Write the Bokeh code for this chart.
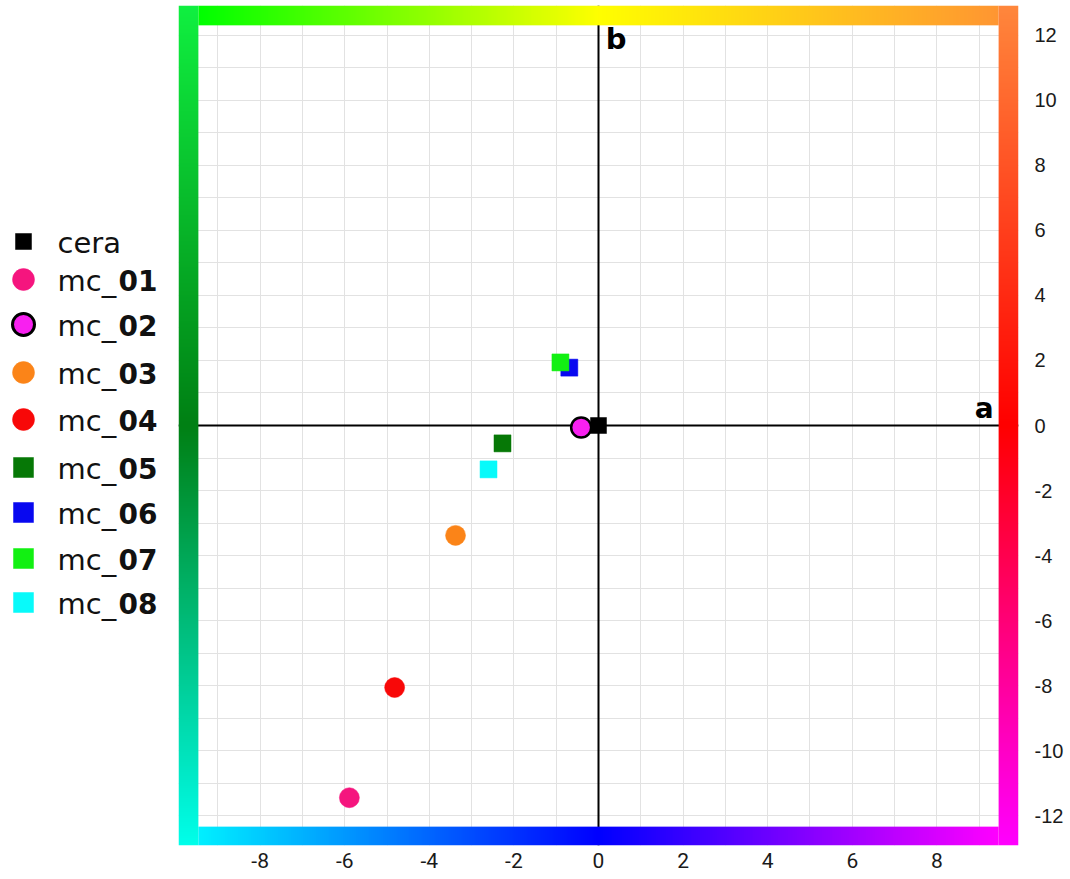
import numpy as np
from bokeh.plotting import figure
from bokeh.models import Range1d, FixedTicker, ColumnDataSource, PrintfTickFormatter
from bokeh.layouts import row
from bokeh.embed import file_html
from bokeh.resources import INLINE
from bokeh.core.properties import value

# ---------------- data ----------------
names = ["cera", "mc_01", "mc_02", "mc_03", "mc_04", "mc_05", "mc_06", "mc_07", "mc_08"]
a_vals = [0.00, -5.89, -0.41, -3.38, -4.82, -2.27, -0.69, -0.90, -2.60]
b_vals = [0.00, -11.45, -0.06, -3.38, -8.06, -0.55, 1.78, 1.94, -1.35]
markers = ["square", "circle", "circle", "circle", "circle", "square", "square", "square", "square"]
fill_colors = ["#000000", "#f5157e", "#f820f0", "#fb8418", "#f80808", "#067806", "#0808f0", "#12f012", "#08fafa"]
outline_colors = ["#000000", "#f5157e", "#000000", "#fb8418", "#f80808", "#067806", "#0808f0", "#12f012", "#08fafa"]
x_ticks = [-8, -6, -4, -2, 0, 2, 4, 6, 8]
y_ticks = [-12, -10, -8, -6, -4, -2, 0, 2, 4, 6, 8, 10, 12]

# ---------------- layout constants ----------------
LEG_W = 178
FRAME_W, FRAME_H = 840, 840
BORDER_T, BORDER_R, BORDER_B = 5, 52, 34
X_LO, X_HI = -9.93, 9.93
Y_LO, Y_HI = -12.92, 12.92
IN_X = 9.46
IN_Y_TOP, IN_Y_BOT = 12.31, -12.34

is_circle = [m == "circle" for m in markers]
plot_sizes = [20 if c else 17 for c in is_circle]
plot_sizes[0] = 16
line_widths = [2.5 if oc != fc else 0.5 for oc, fc in zip(outline_colors, fill_colors)]

src = ColumnDataSource(dict(a=a_vals, b=b_vals, marker=markers, fill=fill_colors,
                            line=outline_colors, size=plot_sizes, lw=line_widths))

p = figure(width=FRAME_W + BORDER_R, height=FRAME_H + BORDER_T + BORDER_B,
           x_range=Range1d(X_LO, X_HI), y_range=Range1d(Y_LO, Y_HI),
           output_backend="svg", toolbar_location=None,
           x_axis_location="below", y_axis_location="right",
           min_border_left=0, min_border_right=BORDER_R,
           min_border_top=BORDER_T, min_border_bottom=BORDER_B)
p.outline_line_color = None
p.background_fill_color = "white"
p.border_fill_color = "white"

p.xgrid.ticker = FixedTicker(ticks=list(range(-9, 10)))
p.ygrid.ticker = FixedTicker(ticks=list(range(-12, 13)))
p.grid.grid_line_color = "#e2e2e2"
p.grid.grid_line_width = 1

p.xaxis.ticker = FixedTicker(ticks=x_ticks)
p.yaxis.ticker = FixedTicker(ticks=y_ticks)
for ax in (p.xaxis, p.yaxis):
    ax.axis_line_color = None
    ax.major_tick_line_color = None
    ax.minor_tick_line_color = None
    ax.major_tick_out = 0
    ax.major_label_text_color = "#1a1a1a"
    ax.formatter = PrintfTickFormatter(format="%d")
p.xaxis.major_label_text_font = "Roboto"
p.xaxis.major_label_text_font_size = "21px"
p.xaxis.major_label_standoff = 7
p.yaxis.major_label_text_font = "Liberation Sans"
p.yaxis.major_label_text_font_size = "20px"
p.yaxis.major_label_standoff = 16

# axis lines through origin (drawn first, covered by frame strips)
p.segment(x0=[0, X_LO], y0=[Y_LO, 0], x1=[0, X_HI], y1=[Y_HI, 0],
          line_color="black", line_width=2)


def gradient(stops, n):
    t = np.linspace(0, 1, n)
    pos = [s[0] for s in stops]
    img = np.empty(n, dtype=np.uint32)
    view = img.view(dtype=np.uint8).reshape((n, 4))
    for k in range(3):
        view[:, k] = np.interp(t, pos, [s[1][k] for s in stops]).astype(np.uint8)
    view[:, 3] = 255
    return img


N = 420
top = gradient([(0, (0, 255, 0)), (0.5, (255, 255, 0)), (1, (255, 150, 50))], N).reshape((1, N))
bot = gradient([(0, (0, 240, 255)), (0.5, (0, 0, 255)), (1, (255, 0, 255))], N).reshape((1, N))
left = gradient([(0, (0, 255, 235)), (0.5, (0, 128, 20)), (1, (16, 240, 64))], N).reshape((N, 1))
right = gradient([(0, (255, 0, 255)), (0.5, (255, 0, 0)), (1, (255, 135, 60))], N).reshape((N, 1))

p.image_rgba(image=[top], x=-IN_X, y=IN_Y_TOP, dw=2 * IN_X, dh=Y_HI - IN_Y_TOP)
p.image_rgba(image=[bot], x=-IN_X, y=Y_LO, dw=2 * IN_X, dh=IN_Y_BOT - Y_LO)
p.image_rgba(image=[left], x=X_LO, y=Y_LO, dw=-IN_X - X_LO, dh=Y_HI - Y_LO)
p.image_rgba(image=[right], x=IN_X, y=Y_LO, dw=X_HI - IN_X, dh=Y_HI - Y_LO)

p.scatter(x="a", y="b", marker="marker", size="size", fill_color="fill",
          line_color="line", line_width="lw", source=src)

p.text(x=[9.34], y=[0.53], text=["a"], text_align="right", text_baseline="alphabetic",
       text_font=value("DejaVu Sans"), text_font_style="bold", text_font_size="28px",
       text_color="black")
p.text(x=[0.17], y=[11.88], text=["b"], text_align="left", text_baseline="alphabetic",
       text_font=value("DejaVu Sans"), text_font_style="bold", text_font_size="29px",
       text_color="black")

# ---------------- legend figure (frame aligned with the main frame) ----------------
leg_rows = [241, 279, 324, 372, 419, 467, 512, 558, 602]
leg_sizes = [22 if c else 20 for c in is_circle]
leg_sizes[0] = 16
prefixes = [n if not n.startswith("mc_") else "mc_" for n in names]
suffixes = ["" if not n.startswith("mc_") else n[3:] for n in names]

lg = figure(width=LEG_W, height=FRAME_H + BORDER_T + BORDER_B,
            x_range=Range1d(0, LEG_W), y_range=Range1d(BORDER_T + FRAME_H, BORDER_T),
            output_backend="svg", toolbar_location=None,
            min_border_left=0, min_border_right=0,
            min_border_top=BORDER_T, min_border_bottom=BORDER_B)
lg.outline_line_color = None
lg.axis.visible = False
lg.grid.visible = False
lg_src = ColumnDataSource(dict(x=[23] * len(names), y=leg_rows, marker=markers, fill=fill_colors,
                               line=outline_colors, size=leg_sizes,
                               lw=[3 if oc != fc else 0.5 for oc, fc in zip(outline_colors, fill_colors)],
                               ty=[r + 1 for r in leg_rows], pre=prefixes, suf=suffixes,
                               tx=[57] * len(names), sx=[118] * len(names)))
lg.scatter(x="x", y="y", marker="marker", size="size", fill_color="fill",
           line_color="line", line_width="lw", source=lg_src)
lg.text(x="tx", y="ty", text="pre", text_font=value("DejaVu Sans"), text_font_size="29px",
        text_baseline="alphabetic", text_color="#111111", source=lg_src)
lg.text(x="sx", y="ty", text="suf", text_font=value("DejaVu Sans"), text_font_style="bold",
        text_font_size="28px", text_baseline="alphabetic", text_color="#111111", source=lg_src)

layout = row(lg, p)
open("out.html", "w").write(file_html(layout, INLINE))
